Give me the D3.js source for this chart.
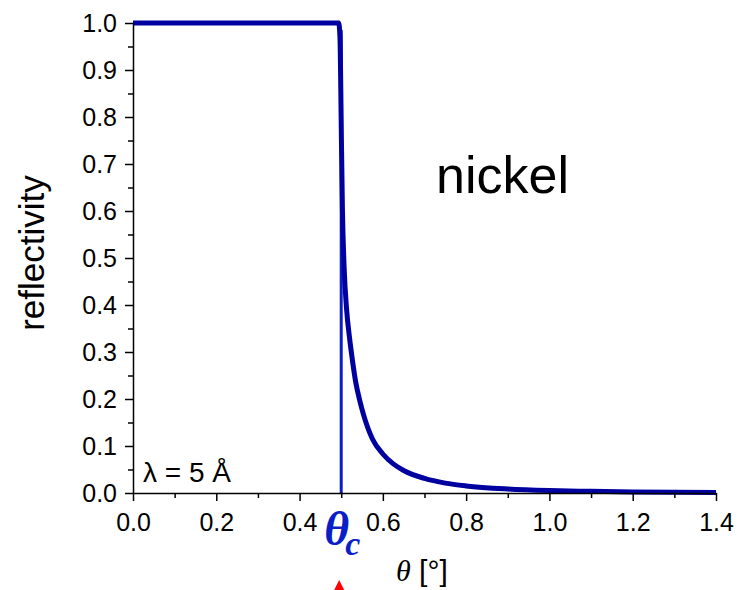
<!DOCTYPE html>
<html>
<head>
<meta charset="utf-8">
<script src="https://cdn.jsdelivr.net/npm/d3@7"></script>
<style>
  body { margin: 0; background: #fff; }
  svg { display: block; font-family: "Liberation Sans", Arial, sans-serif; }
  .axis path, .axis line { stroke: #000; stroke-width: 1.5px; }
  .axis text { font-size: 25px; fill: #000; }
</style>
</head>
<body>
<svg width="738" height="590"></svg>
<script>
// reflectivity curve
var theta = [0, 0.2, 0.4, 0.494, 0.497, 0.499, 0.5005, 0.503, 0.507, 0.513, 0.52, 0.525, 0.535, 0.545, 0.5525,
  0.575, 0.6, 0.625, 0.65, 0.7, 0.75, 0.8, 0.9, 1.0, 1.1, 1.2, 1.3, 1.4];
var refl = [1.0, 1.0, 1.0, 1.0, 0.97, 0.86, 0.75, 0.6, 0.48, 0.39, 0.33, 0.295, 0.235, 0.195, 0.17,
  0.115, 0.083, 0.062, 0.048, 0.031, 0.021, 0.015, 0.0085, 0.0052, 0.0035, 0.0023, 0.0016, 0.0012];
// thin line at the critical angle
var critTheta = [0.5, 0.5];
var critRefl = [0.985, 0];
var thetaC = 0.5;

var xTicks = [0, 0.2, 0.4, 0.6, 0.8, 1.0, 1.2, 1.4];
var xMinor = [0.1, 0.3, 0.5, 0.7, 0.9, 1.1, 1.3];
var yTicks = [0, 0.1, 0.2, 0.3, 0.4, 0.5, 0.6, 0.7, 0.8, 0.9, 1.0];
var yMinor = [0.05, 0.15, 0.25, 0.35, 0.45, 0.55, 0.65, 0.75, 0.85, 0.95];

var svg = d3.select("svg");
var margin = {"top": 23, "right": 22, "bottom": 97, "left": 133};
var width = +svg.attr("width") - margin.left - margin.right;
var height = +svg.attr("height") - margin.top - margin.bottom;

var g = svg.append("g").attr("transform", "translate(" + margin.left + "," + margin.top + ")");

var x = d3.scaleLinear().domain([0, 1.4]).range([0, width]);
var y = d3.scaleLinear().domain([0, 1.0]).range([height, 0]);

var data = theta.map(function (t, i) { return {t: t, r: refl[i]}; });
var crit = critTheta.map(function (t, i) { return {t: t, r: critRefl[i]}; });

var line = d3.line()
    .x(function (d) { return x(d.t); })
    .y(function (d) { return y(d.r); })
    .curve(d3.curveMonotoneX);

g.append("path")
    .datum(crit)
    .attr("fill", "none")
    .attr("stroke", "#0a1ec8")
    .attr("stroke-width", 3)
    .attr("d", d3.line().x(function (d) { return x(d.t); }).y(function (d) { return y(d.r); }));

g.append("path")
    .datum(data)
    .attr("fill", "none")
    .attr("stroke", "#0000a0")
    .attr("stroke-width", 5)
    .attr("stroke-linejoin", "round")
    .attr("d", line);

// minor ticks
g.append("g")
    .attr("class", "axis")
    .attr("transform", "translate(0," + height + ")")
    .call(d3.axisBottom(x).tickValues(xMinor).tickSize(5).tickFormat(""))
    .select(".domain").remove();
g.append("g")
    .attr("class", "axis")
    .call(d3.axisLeft(y).tickValues(yMinor).tickSize(5).tickFormat(""))
    .select(".domain").remove();

g.append("g")
    .attr("class", "axis")
    .attr("transform", "translate(0," + height + ")")
    .call(d3.axisBottom(x).tickValues(xTicks).tickSize(8).tickSizeOuter(0).tickPadding(12).tickFormat(d3.format(".1f")));

g.append("g")
    .attr("class", "axis")
    .call(d3.axisLeft(y).tickValues(yTicks).tickSize(8).tickSizeOuter(0).tickPadding(8).tickFormat(d3.format(".1f")));

// labels
svg.append("text")
    .attr("transform", "translate(44,253) rotate(-90)")
    .attr("text-anchor", "middle")
    .style("font-size", "35px")
    .text("reflectivity");

svg.append("text")
    .attr("x", 436).attr("y", 193)
    .style("font-size", "52px")
    .text("nickel");

svg.append("text")
    .attr("x", 143).attr("y", 482)
    .style("font-size", "28px")
    .text("λ = 5 Å");

var tc = svg.append("text")
    .attr("x", margin.left + x(thetaC) - 17).attr("y", 545)
    .style("font-family", "'Liberation Serif', 'Times New Roman', serif")
    .style("font-style", "italic")
    .style("font-weight", "bold")
    .attr("fill", "#0a1ec8");
tc.append("tspan").style("font-size", "48px").text("θ");
tc.append("tspan").style("font-size", "34px").attr("dy", 10).attr("dx", -4).text("c");

var xl = svg.append("text")
    .attr("x", 396).attr("y", 581)
    .style("font-size", "30px");
xl.append("tspan").style("font-family", "'Liberation Serif', 'Times New Roman', serif").style("font-style", "italic").text("θ");
xl.append("tspan").text(" [°]");

// red marker under theta_c
var cx = margin.left + x(thetaC) - 2;
svg.append("path")
    .attr("d", "M" + cx + ",580L" + (cx - 6) + ",592L" + (cx + 6) + ",592Z")
    .attr("fill", "#ff0000");
</script>
</body>
</html>
